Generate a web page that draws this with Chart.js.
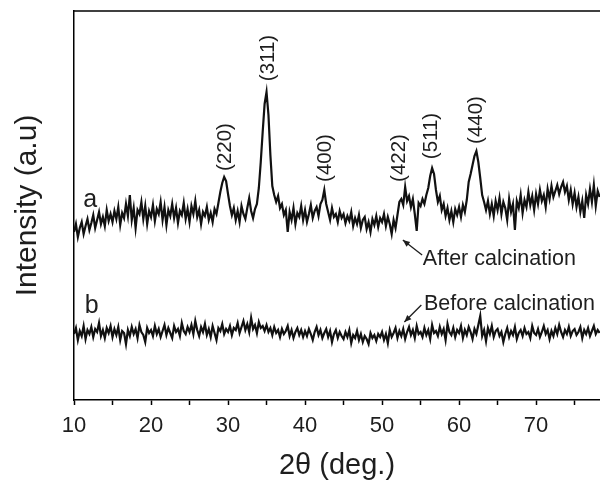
<!DOCTYPE html>
<html><head><meta charset="utf-8">
<script src="https://cdn.jsdelivr.net/npm/chart.js@4"></script>
<style>html,body{margin:0;padding:0;background:#fff}#wrap{width:600px;height:492px}</style>
</head><body><div id="wrap"><canvas id="c" width="600" height="492"></canvas></div>
<script>
// 2θ (deg.) sample positions
const twoTheta = [
10,10.25,10.5,10.75,11,11.25,11.5,11.75,12,12.25,12.5,12.75,13,13.25,13.5,13.75,14,14.25,14.5,14.75,
15,15.25,15.5,15.75,16,16.25,16.5,16.75,17,17.25,17.5,17.75,18,18.25,18.5,18.75,19,19.25,19.5,19.75,
20,20.25,20.5,20.75,21,21.25,21.5,21.75,22,22.25,22.5,22.75,23,23.25,23.5,23.75,24,24.25,24.5,24.75,
25,25.25,25.5,25.75,26,26.25,26.5,26.75,27,27.25,27.5,27.75,28,28.25,28.5,28.75,29,29.25,29.5,29.75,
30,30.25,30.5,30.75,31,31.25,31.5,31.75,32,32.25,32.5,32.75,33,33.25,33.5,33.75,34,34.25,34.5,34.75,
35,35.25,35.5,35.75,36,36.25,36.5,36.75,37,37.25,37.5,37.75,38,38.25,38.5,38.75,39,39.25,39.5,39.75,
40,40.25,40.5,40.75,41,41.25,41.5,41.75,42,42.25,42.5,42.75,43,43.25,43.5,43.75,44,44.25,44.5,44.75,
45,45.25,45.5,45.75,46,46.25,46.5,46.75,47,47.25,47.5,47.75,48,48.25,48.5,48.75,49,49.25,49.5,49.75,
50,50.25,50.5,50.75,51,51.25,51.5,51.75,52,52.25,52.5,52.75,53,53.25,53.5,53.75,54,54.25,54.5,54.75,
55,55.25,55.5,55.75,56,56.25,56.5,56.75,57,57.25,57.5,57.75,58,58.25,58.5,58.75,59,59.25,59.5,59.75,
60,60.25,60.5,60.75,61,61.25,61.5,61.75,62,62.25,62.5,62.75,63,63.25,63.5,63.75,64,64.25,64.5,64.75,
65,65.25,65.5,65.75,66,66.25,66.5,66.75,67,67.25,67.5,67.75,68,68.25,68.5,68.75,69,69.25,69.5,69.75,
70,70.25,70.5,70.75,71,71.25,71.5,71.75,72,72.25,72.5,72.75,73,73.25,73.5,73.75,74,74.25,74.5,74.75,
75,75.25,75.5,75.75,76,76.25,76.5,76.75,77,77.25,77.5,77.75,78,78.25
];
// curve a: after calcination (a.u.)
const afterCalcination = [
168,176,163,172,178,166,174,181,170,177,185,172,180,188,176,183,174,190,179,186,
178,189,181,193,175,187,182,196,184,205,180,192,172,190,186,198,181,194,176,189,
183,195,179,191,186,198,180,193,175,190,184,196,182,192,177,189,185,197,181,191,
178,194,186,199,183,190,176,188,184,193,180,187,178,191,186,197,208,217,223,219,
206,194,185,192,180,189,178,194,186,181,192,202,189,182,191,196,212,238,268,296,
308,285,245,214,205,198,204,192,196,185,190,168,188,180,192,176,187,183,194,180,
190,178,186,195,182,189,193,184,196,200,210,196,188,180,192,183,186,178,189,182,
186,177,184,179,188,174,182,176,185,172,180,183,171,178,168,181,175,184,173,182,
178,186,174,183,176,166,180,172,185,198,201,195,213,199,204,193,201,186,169,197,
194,201,196,205,212,224,232,226,210,198,204,190,196,184,192,180,189,178,191,185,
193,183,195,188,200,218,226,235,244,249,238,222,205,198,190,199,186,196,184,199,
190,202,186,198,192,180,201,188,196,170,199,192,205,187,200,193,208,195,204,190,
206,196,210,199,205,193,211,201,214,203,209,215,206,213,218,208,214,200,210,196,
207,193,203,188,199,182,205,196,211,198,215,194,209,203
];
// curve b: before calcination (a.u.)
const beforeCalcination = [
66,72,60,69,64,74,61,70,66,73,63,71,68,77,64,70,62,72,67,74,
63,71,65,73,60,69,67,56,70,64,73,66,71,62,75,68,65,58,72,67,
70,64,74,66,71,63,69,75,65,72,67,62,74,68,71,64,77,69,66,73,
68,75,66,79,70,64,73,68,76,65,71,63,74,67,60,72,69,76,66,71,
68,74,65,72,70,77,67,73,79,70,76,68,82,71,75,67,78,72,74,69,
75,68,72,65,73,67,70,63,71,66,69,74,64,70,62,68,72,65,70,63,
69,64,71,66,60,68,73,65,70,62,67,71,63,69,58,66,70,62,68,64,
61,68,63,70,57,65,62,69,60,66,58,64,61,56,67,62,65,59,66,63,
68,60,66,57,70,63,67,72,62,69,64,71,61,68,73,65,70,62,74,66,
68,63,72,65,70,61,75,67,69,64,73,66,71,60,76,68,65,72,63,70,
67,74,62,70,65,73,68,61,71,66,75,84,64,70,59,72,66,74,63,69,
71,64,68,58,66,72,63,69,65,73,61,67,70,64,72,66,68,62,74,67,
65,71,63,68,74,66,70,61,69,64,72,66,75,68,63,70,66,73,64,69,
71,65,68,73,62,70,66,72,64,69,74,66,70,67
];
const xTickLabels = ['10','20','30','40','50','60','70'];
const peakLabels = ['(220)','(311)','(400)','(422)','(511)','(440)'];
const peakLabelX = [29.6,35.2,42.6,52.2,56.4,62.2];
const peakLabelY = [253,342,242,242,264,280];

const FONT = '"Liberation Sans", Arial, Helvetica, sans-serif';
const TXT = '#1e1e1e';

function arrow(ctx, x1, y1, x2, y2){
  ctx.beginPath(); ctx.moveTo(x1,y1); ctx.lineTo(x2,y2); ctx.stroke();
  const a = Math.atan2(y2-y1, x2-x1), L = 7, W = 3;
  ctx.beginPath();
  ctx.moveTo(x2,y2);
  ctx.lineTo(x2 - L*Math.cos(a) + W*Math.sin(a), y2 - L*Math.sin(a) - W*Math.cos(a));
  ctx.lineTo(x2 - L*Math.cos(a) - W*Math.sin(a), y2 - L*Math.sin(a) + W*Math.cos(a));
  ctx.closePath(); ctx.fill();
}

const annot = {
  id: 'annot',
  afterDraw(chart){
    const {ctx, chartArea: ca, scales: {x, y}} = chart;
    ctx.save();
    ctx.strokeStyle = '#000'; ctx.lineWidth = 1.5;
    ctx.beginPath(); ctx.moveTo(ca.left, ca.top); ctx.lineTo(ca.right, ca.top); ctx.stroke();
    ctx.fillStyle = TXT;
    ctx.textAlign = 'center'; ctx.textBaseline = 'middle';
    ctx.font = '20.5px ' + FONT;
    peakLabels.forEach((t, i) => {
      ctx.save();
      ctx.translate(x.getPixelForValue(peakLabelX[i]), y.getPixelForValue(peakLabelY[i]));
      ctx.rotate(-Math.PI/2);
      ctx.fillText(t, 0, 0);
      ctx.restore();
    });
    ctx.font = '25px ' + FONT;
    ctx.fillText('a', x.getPixelForValue(12.1), y.getPixelForValue(200));
    ctx.fillText('b', x.getPixelForValue(12.3), y.getPixelForValue(94));
    ctx.font = '21.5px ' + FONT;
    ctx.textAlign = 'left';
    ctx.fillText('After calcination', x.getPixelForValue(55.3), y.getPixelForValue(141));
    ctx.fillText('Before calcination', x.getPixelForValue(55.45), y.getPixelForValue(96));
    ctx.strokeStyle = TXT; ctx.lineWidth = 1.3;
    arrow(ctx, x.getPixelForValue(55.2), y.getPixelForValue(145), x.getPixelForValue(52.7), y.getPixelForValue(160));
    arrow(ctx, x.getPixelForValue(55.1), y.getPixelForValue(95), x.getPixelForValue(52.9), y.getPixelForValue(78));
    // axis titles
    ctx.textAlign = 'center';
    ctx.font = '29px ' + FONT;
    ctx.fillText('2θ (deg.)', (ca.left + ca.right)/2, 466);
    ctx.save();
    ctx.translate(28, (ca.top + ca.bottom)/2);
    ctx.rotate(-Math.PI/2);
    ctx.font = '30px ' + FONT;
    ctx.fillText('Intensity (a.u)', 0, 0);
    ctx.restore();
    ctx.restore();
  }
};

new Chart(document.getElementById('c'), {
  type: 'line',
  data: {
    datasets: [
      { label: 'a', data: twoTheta.map((v, i) => ({x: v, y: afterCalcination[i]})),
        borderColor: '#111', borderWidth: 2.2, pointRadius: 0, tension: 0, fill: false },
      { label: 'b', data: twoTheta.map((v, i) => ({x: v, y: beforeCalcination[i]})),
        borderColor: '#111', borderWidth: 2.2, pointRadius: 0, tension: 0, fill: false }
    ]
  },
  options: {
    responsive: false, animation: false, devicePixelRatio: 1,
    layout: { padding: { top: 11, left: 0, right: 0, bottom: 0 } },
    plugins: { legend: { display: false }, tooltip: { enabled: false } },
    scales: {
      x: {
        type: 'linear', min: 10, max: 78.3,
        ticks: { stepSize: 5, includeBounds: false, autoSkip: false, maxRotation: 0, padding: 8,
          color: TXT, font: { family: FONT, size: 22 },
          callback: v => xTickLabels.includes(String(v)) ? String(v) : '' },
        grid: { display: true, drawOnChartArea: false, drawTicks: true, tickLength: 5, color: '#000', tickWidth: 1.5 },
        border: { display: true, color: '#000', width: 1.5 },
        afterFit: s => { s.height = 92; }
      },
      y: {
        min: 0, max: 389,
        ticks: { display: false },
        grid: { display: false },
        border: { display: true, color: '#000', width: 1.5 },
        afterFit: s => { s.width = 74; }
      }
    }
  },
  plugins: [annot]
});
</script>
</body></html>
